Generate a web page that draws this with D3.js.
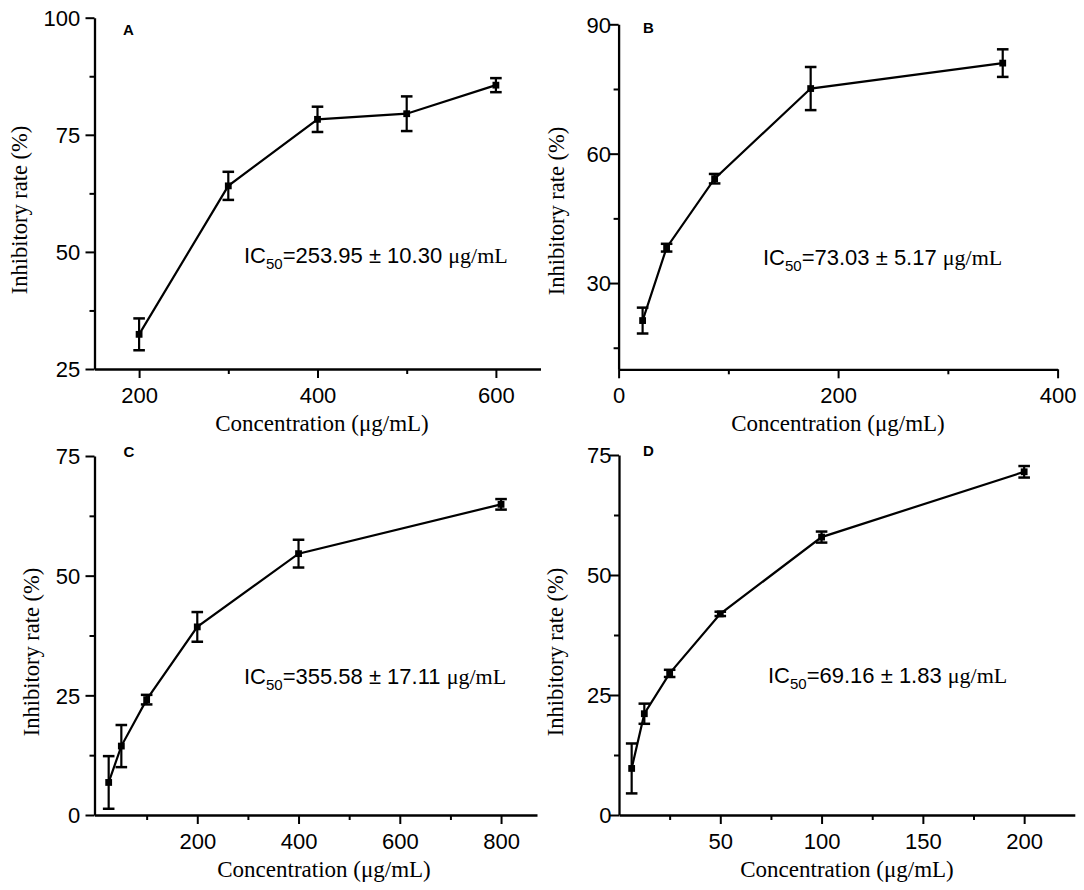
<!DOCTYPE html>
<html>
<head>
<meta charset="utf-8">
<script src="https://cdn.jsdelivr.net/npm/d3@7"></script>
<style>
  html, body { margin: 0; padding: 0; background: #fff; }
  svg { display: block; }
</style>
</head>
<body>
<svg id="chart" width="1084" height="890"></svg>
<script>
// ---------------- DATA ----------------
// Panel A
const concA = [200, 300, 400, 500, 600];
const rateA = [32.4, 64.1, 78.3, 79.5, 85.6];
const errA  = [3.4, 3.0, 2.7, 3.7, 1.5];
const xTicksA = [200, 400, 600];
const xMinorA = [300, 500];
const yTicksA = [25, 50, 75, 100];
const yMinorA = [37.5, 62.5, 87.5];
const icA = ["253.95", "10.30"];

// Panel B
const concB = [21.875, 43.75, 87.5, 175, 350];
const rateB = [21.3, 38.2, 54.2, 75.1, 81.0];
const errB  = [3.0, 0.9, 1.1, 5.0, 3.2];
const xTicksB = [0, 200, 400];
const xMinorB = [100, 300];
const yTicksB = [30, 60, 90];
const yMinorB = [15, 45, 75];
const icB = ["73.03", "5.17"];

// Panel C
const concC = [25, 50, 100, 200, 400, 800];
const rateC = [6.8, 14.4, 24.1, 39.3, 54.6, 64.9];
const errC  = [5.5, 4.4, 1.0, 3.1, 2.9, 1.1];
const xTicksC = [200, 400, 600, 800];
const xMinorC = [100, 300, 500, 700];
const yTicksC = [0, 25, 50, 75];
const yMinorC = [12.5, 37.5, 62.5];
const icC = ["355.58", "17.11"];

// Panel D
const concD = [6.25, 12.5, 25, 50, 100, 200];
const rateD = [9.7, 21.1, 29.5, 41.9, 57.9, 71.5];
const errD  = [5.2, 2.1, 0.75, 0.45, 1.15, 1.2];
const xTicksD = [50, 100, 150, 200];
const xMinorD = [25, 75, 125, 175];
const yTicksD = [0, 25, 50, 75];
const yMinorD = [12.5, 37.5, 62.5];
const icD = ["69.16", "1.83"];

const xTitle = "Concentration (\u03BCg/mL)";
const yTitle = "Inhibitory rate (%)";

// ---------------- LAYOUT ----------------
const panels = [
  { label: "A", conc: concA, rate: rateA, err: errA, xTicks: xTicksA, xMinor: xMinorA, yTicks: yTicksA, yMinor: yMinorA, ic: icA,
    xDomain: [150, 650], yDomain: [25, 100],
    left: 94.5, right: 540.5, top: 17.7, bottom: 369,
    yPad: 5.2, yTitleX: 27, yTitleY: 210, xTitleX: 322, labelX: 123, labelY: 35, icX: 244, icY: 263 },
  { label: "B", conc: concB, rate: rateB, err: errB, xTicks: xTicksB, xMinor: xMinorB, yTicks: yTicksB, yMinor: yMinorB, ic: icB,
    xDomain: [0, 400], yDomain: [10, 90],
    left: 618.6, right: 1057.6, top: 24.3, bottom: 369.3,
    yPad: -1.4, yTitleX: 564, yTitleY: 211, xTitleX: 838, labelX: 643, labelY: 33, icX: 763, icY: 265 },
  { label: "C", conc: concC, rate: rateC, err: errC, xTicks: xTicksC, xMinor: xMinorC, yTicks: yTicksC, yMinor: yMinorC, ic: icC,
    xDomain: [-3, 871], yDomain: [0, 75],
    left: 94.5, right: 537, top: 456, bottom: 815,
    yPad: 5.2, yTitleX: 38.5, yTitleY: 652, xTitleX: 324, labelX: 123.5, labelY: 457, icX: 244, icY: 684 },
  { label: "D", conc: concD, rate: rateD, err: errD, xTicks: xTicksD, xMinor: xMinorD, yTicks: yTicksD, yMinor: yMinorD, ic: icD,
    xDomain: [0, 225], yDomain: [0, 75],
    left: 619, right: 1074.8, top: 455, bottom: 815,
    yPad: -1.4, yTitleX: 563, yTitleY: 652, xTitleX: 847, labelX: 643, labelY: 456, icX: 768, icY: 683 }
];

const SANS = "'Liberation Sans', Arial, sans-serif";
const SERIF = "'Liberation Serif', 'Times New Roman', serif";

const svg = d3.select("#chart");
svg.append("rect").attr("width", 1084).attr("height", 890).attr("fill", "#fff");

panels.forEach(p => {
  const x = d3.scaleLinear().domain(p.xDomain).range([p.left, p.right]);
  const y = d3.scaleLinear().domain(p.yDomain).range([p.bottom, p.top]);
  const g = svg.append("g");

  // Minor ticks
  g.append("g").attr("transform", `translate(0,${p.bottom})`)
    .call(d3.axisBottom(x).tickValues(p.xMinor).tickSize(5).tickFormat(""))
    .call(a => a.select(".domain").remove())
    .call(a => a.selectAll("line").attr("stroke", "#000").attr("stroke-width", 2));
  g.append("g").attr("transform", `translate(${p.left},0)`)
    .call(d3.axisLeft(y).tickValues(p.yMinor).tickSize(5).tickFormat(""))
    .call(a => a.select(".domain").remove())
    .call(a => a.selectAll("line").attr("stroke", "#000").attr("stroke-width", 2));

  // Major axes
  const xa = g.append("g").attr("transform", `translate(0,${p.bottom})`)
    .call(d3.axisBottom(x).tickValues(p.xTicks).tickSize(9).tickSizeOuter(0).tickPadding(9).tickFormat(d3.format("d")));
  const ya = g.append("g").attr("transform", `translate(${p.left},0)`)
    .call(d3.axisLeft(y).tickValues(p.yTicks).tickSize(9).tickSizeOuter(0).tickPadding(p.yPad).tickFormat(d3.format("d")));
  [xa, ya].forEach(a => {
    a.select(".domain").attr("stroke", "#000").attr("stroke-width", 2.3);
    a.selectAll(".tick line").attr("stroke", "#000").attr("stroke-width", 2);
    a.selectAll(".tick text").attr("fill", "#000").style("font-family", SANS).style("font-size", "22px");
  });
  ya.selectAll(".tick text").attr("dy", "0.36em");

  // Axis titles
  g.append("text")
    .attr("x", p.xTitleX).attr("y", p.bottom + 62)
    .attr("text-anchor", "middle")
    .style("font-family", SERIF).style("font-size", "23px").attr("fill", "#000")
    .text(xTitle);
  g.append("text")
    .attr("transform", `translate(${p.yTitleX},${p.yTitleY}) rotate(-90)`)
    .attr("text-anchor", "middle")
    .style("font-family", SERIF).style("font-size", "22.5px").attr("fill", "#000")
    .text(yTitle);

  // Panel label
  g.append("text")
    .attr("x", p.labelX).attr("y", p.labelY)
    .style("font-family", SANS).style("font-size", "15px").style("font-weight", "bold")
    .attr("fill", "#000").text(p.label);

  // Data
  const pts = p.conc.map((c, i) => ({ c, r: p.rate[i], e: p.err[i] }));
  const line = d3.line().x(d => x(d.c)).y(d => y(d.r));
  g.append("path").datum(pts).attr("d", line)
    .attr("fill", "none").attr("stroke", "#000").attr("stroke-width", 2.2);

  const eb = g.append("g").selectAll("g").data(pts).join("g");
  eb.append("line")
    .attr("x1", d => x(d.c)).attr("x2", d => x(d.c))
    .attr("y1", d => y(d.r + d.e)).attr("y2", d => y(d.r - d.e))
    .attr("stroke", "#000").attr("stroke-width", 2.2);
  eb.selectAll("line.cap").data(d => [d.r + d.e, d.r - d.e].map(v => ({ c: d.c, v }))).join("line")
    .attr("class", "cap")
    .attr("x1", d => x(d.c) - 5.8).attr("x2", d => x(d.c) + 5.8)
    .attr("y1", d => y(d.v)).attr("y2", d => y(d.v))
    .attr("stroke", "#000").attr("stroke-width", 2.5);
  eb.append("rect")
    .attr("x", d => x(d.c) - 3.4).attr("y", d => y(d.r) - 3.4)
    .attr("width", 6.8).attr("height", 6.8).attr("fill", "#000");

  // IC50 annotation
  const t = g.append("text").attr("x", p.icX).attr("y", p.icY)
    .attr("fill", "#000").style("font-family", SANS).style("font-size", "22px");
  t.append("tspan").text("IC");
  t.append("tspan").attr("dy", 6).style("font-size", "15px").text("50");
  t.append("tspan").attr("dy", -6).text(`=${p.ic[0]} \u00B1 ${p.ic[1]} `);
  t.append("tspan").style("font-family", SERIF).text("\u03BCg/mL");
});
</script>
</body>
</html>
